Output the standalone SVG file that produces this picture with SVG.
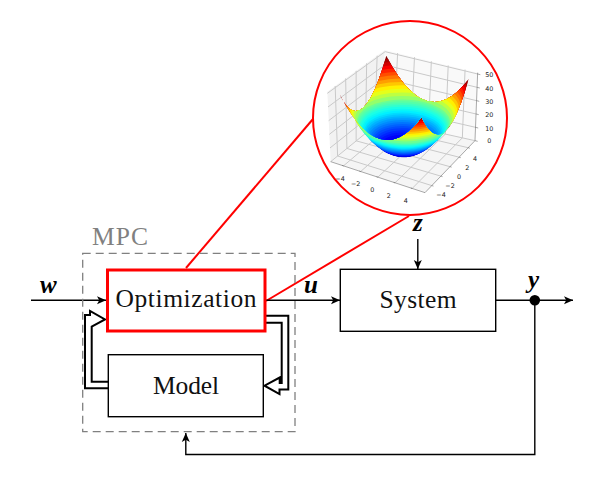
<svg xmlns="http://www.w3.org/2000/svg" width="595" height="477" viewBox="0 0 595 477">
<style>
.box{fill:#fff;stroke:#000;stroke-width:1.4}
.serif{font-family:"Liberation Serif","Times New Roman",serif;font-size:25.5px;fill:#111}
.math{font-family:"Liberation Serif","Times New Roman",serif;font-size:25px;font-weight:bold;font-style:italic;fill:#000}
.wire{fill:none;stroke:#000;stroke-width:1.4}
.dbl{fill:#fff;stroke:#000;stroke-width:2}
.red{fill:none;stroke:#f00;stroke-width:2}
.grid{fill:none;stroke:#c9c9c9;stroke-width:3}
.axis{fill:none;stroke:#555;stroke-width:1.5}
.tick{font-family:"DejaVu Sans",sans-serif;font-size:6.4px;fill:#222;text-anchor:middle}
</style>
<defs>
<marker id="arr" markerUnits="userSpaceOnUse" markerWidth="10" markerHeight="10" refX="9" refY="4" orient="auto" viewBox="0 0 10 8"><path d="M0,0 L9,4 L0,8 L2.2,4 Z" fill="#000"/></marker>
<clipPath id="topclip"><path d="M339.3,93.7 Q362.1,142 386.3,55.7 Q426.8,134.7 468.6,79 Q444.5,165.4 421.6,117 Q379.8,172.7 339.3,93.7 Z"/></clipPath>
<clipPath id="botclip"><path d="M339.3,93.7 Q379.8,172.7 421.6,117 Q444.5,165.4 468.6,79 L490,200 L320,200 Z"/></clipPath>
<clipPath id="silhouette">
<circle transform="matrix(17.67 30.67 64.67 -7.33 403.3 153.7)" cx="-.082" cy=".023" r=".2"/>
<circle transform="matrix(17.67 30.67 64.67 -7.33 403.3 153.7)" cx="-.165" cy=".046" r=".283"/>
<circle transform="matrix(17.67 30.67 64.67 -7.33 403.3 153.7)" cx="-.247" cy=".069" r=".346"/>
<circle transform="matrix(17.67 30.67 64.67 -7.33 403.3 153.7)" cx="-.329" cy=".092" r=".4"/>
<circle transform="matrix(17.67 30.67 64.67 -7.33 403.3 153.7)" cx="-.412" cy=".115" r=".447"/>
<circle transform="matrix(17.67 30.67 64.67 -7.33 403.3 153.7)" cx="-.494" cy=".137" r=".49"/>
<circle transform="matrix(17.67 30.67 64.67 -7.33 403.3 153.7)" cx="-.577" cy=".16" r=".529"/>
<circle transform="matrix(17.67 30.67 64.67 -7.33 403.3 153.7)" cx="-.659" cy=".183" r=".566"/>
<circle transform="matrix(17.67 30.67 64.67 -7.33 403.3 153.7)" cx="-.741" cy=".206" r=".6"/>
<circle transform="matrix(17.67 30.67 64.67 -7.33 403.3 153.7)" cx="-.824" cy=".229" r=".632"/>
<circle transform="matrix(17.67 30.67 64.67 -7.33 403.3 153.7)" cx="-.906" cy=".252" r=".663"/>
<circle transform="matrix(17.67 30.67 64.67 -7.33 403.3 153.7)" cx="-.988" cy=".275" r=".693"/>
<circle transform="matrix(17.67 30.67 64.67 -7.33 403.3 153.7)" cx="-1.071" cy=".298" r=".721"/>
</clipPath>
</defs>
<rect width="595" height="477" fill="#fff"/>

<g id="connectors">
<path class="red" d="M186,268 L313,119"/>
<path class="red" d="M266,301 L409,216"/>
<path class="wire" marker-end="url(#arr)" d="M31,300.3 H106"/>
<path class="wire" marker-end="url(#arr)" d="M266,300.3 H340"/>
<path class="wire" marker-end="url(#arr)" d="M417.8,239 V269"/>
<path class="wire" marker-end="url(#arr)" d="M495.7,300.3 H573"/>
<path class="wire" marker-end="url(#arr)" d="M534.8,300.3 V454.5 H185.8 V433"/>
<circle cx="534.8" cy="300.3" r="5.3" fill="#000"/>
</g>

<g id="mpc">
<rect x="82.7" y="253.3" width="212.3" height="178.4" fill="none" stroke="#808080" stroke-width="1.3" stroke-dasharray="8 5"/>
<text class="serif" x="92" y="245" textLength="56" style="fill:#808080">MPC</text>
</g>
<g id="feedback-arrows">
<path class="dbl" d="M108,388.3 H85 V315 H90 V311 L105,319.5 L91.7,326.7 V381.7 H108"/>
<path class="dbl" d="M266,315.7 H288.3 V389.5 H279.5 V394 L264.5,385.7 L279.7,377.5 V383 H281.7 V322.7 H266"/>
</g>
<g id="optimization">
<rect x="107.5" y="270" width="157.5" height="61" fill="#fff" stroke="#f00" stroke-width="3"/>
<text class="serif" x="115.5" y="307" textLength="141">Optimization</text>
</g>
<g id="model">
<rect class="box" x="108.3" y="354.7" width="155" height="62"/>
<text class="serif" x="153" y="394" textLength="66">Model</text>
</g>
<g id="system">
<rect class="box" x="340.3" y="269.3" width="155.4" height="62"/>
<text class="serif" x="379.5" y="307.5" textLength="77">System</text>
</g>
<g id="labels">
<text class="math" x="40" y="293" textLength="19">w</text>
<text class="math" x="304" y="293" textLength="15">u</text>
<text class="math" x="413" y="231" textLength="12">z</text>
<text class="math" x="528" y="288" textLength="14">y</text>
</g>

<g id="plot">
<circle cx="410" cy="118" r="97" fill="#fff"/>
<g transform="translate(310 10) scale(.33333)">
<polygon points="52,245 225,120 215,330 62,455" fill="#f2f2f2"/>
<polygon points="225,120 503,188 495,392 215,330" fill="#f9f9f9"/>
<polygon points="62,455 345,548 495,392 215,330" fill="#f5f5f5"/>
<path class="grid" d="M100.5,467.6 L253,338.4 L262.8,129.2 M152,484.6 L304,349.7 L313.4,141.6 M203.5,501.5 L355,361 L364,154 M255,518.4 L406,372.3 L414.6,166.4 M306.5,535.4 L457,383.6 L465.2,178.8"/>
<path class="grid" d="M365.4,526.8 L82.8,438 L75.5,228 M392.7,498.4 L110.7,415.3 L107,205.3 M420,470 L138.5,392.5 L138.5,182.5 M447.3,441.6 L166.3,369.8 L170,159.8 M474.6,413.2 L194.1,347 L201.5,137"/>
<path class="grid" d="M62,455 L216,330 L495,392 M60,414 L218,288 L496.6,352 M58,373 L220,247 L498.2,312 M56,332 L222,206 L499.8,272 M54,291 L224,165 L501.4,232 M52,250 L225.5,125 L503,192"/>
<path class="axis" d="M62,455 L345,548 L495,392 L503,188"/>
<path class="axis" d="M100.5,467.6 l-4,-1.3 M152,484.6 l-4,-1.3 M203.5,501.5 l-4,-1.3 M255,518.4 l-4,-1.3 M306.5,535.4 l-4,-1.3 M365.4,526.8 l5,1.5 M392.7,498.4 l5,1.5 M420,470 l5,1.5 M447.3,441.6 l5,1.5 M474.6,413.2 l5,1.5 M495,392 l8,2 M496.6,352 l8,2 M498.2,312 l8,2 M499.8,272 l8,2 M501.4,232 l8,2 M503,192 l8,2"/>
</g>
<g class="ticks">
<text class="tick" x="340" y="181">−4</text><text class="tick" x="355.7" y="186.3">−2</text><text class="tick" x="372.3" y="191.9">0</text><text class="tick" x="388.7" y="197.5">2</text><text class="tick" x="405.7" y="203.2">4</text>
<text class="tick" x="441" y="197.2">−4</text><text class="tick" x="450" y="187.9">−2</text><text class="tick" x="459" y="178.5">0</text><text class="tick" x="467.3" y="169.5">2</text><text class="tick" x="475" y="160.5">4</text>
<text class="tick" x="489.3" y="77.2">50</text><text class="tick" x="489.3" y="90.5">40</text><text class="tick" x="489.3" y="103.9">30</text><text class="tick" x="489.3" y="117.2">20</text><text class="tick" x="489.3" y="130.5">10</text><text class="tick" x="489.3" y="142.9">0</text>
</g>
<g clip-path="url(#botclip)">
<g clip-path="url(#silhouette)">
<g transform="matrix(17.67 30.67 64.67 -7.33 403.3 153.7)">
<circle cx="-.082" cy=".023" r=".2" fill="#0000a8"/>
<circle cx="-.124" cy=".034" r=".245" fill="#0000bc"/>
<circle cx="-.165" cy=".046" r=".283" fill="#0000d1"/>
<circle cx="-.206" cy=".057" r=".316" fill="#0000e6"/>
<circle cx="-.247" cy=".069" r=".346" fill="#0000fa"/>
<circle cx="-.288" cy=".08" r=".374" fill="#0012fc"/>
<circle cx="-.329" cy=".092" r=".4" fill="#0024ff"/>
<circle cx="-.371" cy=".103" r=".424" fill="#0039ff"/>
<circle cx="-.412" cy=".115" r=".447" fill="#004dff"/>
<circle cx="-.453" cy=".126" r=".469" fill="#0061ff"/>
<circle cx="-.494" cy=".137" r=".49" fill="#0075ff"/>
<circle cx="-.535" cy=".149" r=".51" fill="#008aff"/>
<circle cx="-.577" cy=".16" r=".529" fill="#009eff"/>
<circle cx="-.618" cy=".172" r=".548" fill="#00b2ff"/>
<circle cx="-.659" cy=".183" r=".566" fill="#00c7ff"/>
<circle cx="-.7" cy=".195" r=".583" fill="#00dcff"/>
<circle cx="-.741" cy=".206" r=".6" fill="#00f0ff"/>
<circle cx="-.782" cy=".218" r=".616" fill="#0df8f2"/>
<circle cx="-.824" cy=".229" r=".632" fill="#1affe6"/>
<circle cx="-.865" cy=".241" r=".648" fill="#2effd2"/>
<circle cx="-.906" cy=".252" r=".663" fill="#42ffbd"/>
<circle cx="-.947" cy=".263" r=".678" fill="#56ffa8"/>
<circle cx="-.988" cy=".275" r=".693" fill="#6bff94"/>
<circle cx="-1.071" cy=".298" r=".721" fill="#94ff6b"/>
<circle cx="-1.153" cy=".321" r=".748" fill="#bdff42"/>
<circle cx="-1.235" cy=".344" r=".775" fill="#e6ff1a"/>
<circle cx="-1.318" cy=".367" r=".8" fill="#fff000"/>
<circle cx="-1.4" cy=".389" r=".825" fill="#ffc700"/>
<circle cx="-1.482" cy=".412" r=".849" fill="#ff9e00"/>
<circle cx="-1.565" cy=".435" r=".872" fill="#ff7500"/>
<circle cx="-1.647" cy=".458" r=".894" fill="#ff4d00"/>
<circle cx="-1.73" cy=".481" r=".917" fill="#ff2400"/>
<circle cx="-1.812" cy=".504" r=".938" fill="#fa0000"/>
<circle cx="-1.894" cy=".527" r=".959" fill="#d10000"/>
<circle cx="-1.977" cy=".55" r=".98" fill="#a80000"/>
</g>
</g>
</g>
<g clip-path="url(#topclip)">
<g transform="matrix(17.67 30.67 64.67 -7.33 403.3 153.7)">
<circle cx="-2.059" cy=".573" r="1.6" fill="#800000"/>
<circle cx="-1.977" cy=".55" r=".98" fill="#a80000"/>
<circle cx="-1.894" cy=".527" r=".959" fill="#d10000"/>
<circle cx="-1.812" cy=".504" r=".938" fill="#fa0000"/>
<circle cx="-1.73" cy=".481" r=".917" fill="#ff2400"/>
<circle cx="-1.647" cy=".458" r=".894" fill="#ff4d00"/>
<circle cx="-1.565" cy=".435" r=".872" fill="#ff7500"/>
<circle cx="-1.482" cy=".412" r=".849" fill="#ff9e00"/>
<circle cx="-1.4" cy=".389" r=".825" fill="#ffc700"/>
<circle cx="-1.318" cy=".367" r=".8" fill="#fff000"/>
<circle cx="-1.235" cy=".344" r=".775" fill="#e6ff1a"/>
<circle cx="-1.153" cy=".321" r=".748" fill="#bdff42"/>
<circle cx="-1.071" cy=".298" r=".721" fill="#94ff6b"/>
<circle cx="-.988" cy=".275" r=".693" fill="#6bff94"/>
<circle cx="-.947" cy=".263" r=".678" fill="#56ffa8"/>
<circle cx="-.906" cy=".252" r=".663" fill="#42ffbd"/>
<circle cx="-.865" cy=".241" r=".648" fill="#2effd2"/>
<circle cx="-.824" cy=".229" r=".632" fill="#1affe6"/>
<circle cx="-.782" cy=".218" r=".616" fill="#0df8f2"/>
<circle cx="-.741" cy=".206" r=".6" fill="#00f0ff"/>
<circle cx="-.7" cy=".195" r=".583" fill="#00dcff"/>
<circle cx="-.659" cy=".183" r=".566" fill="#00c7ff"/>
<circle cx="-.618" cy=".172" r=".548" fill="#00b2ff"/>
<circle cx="-.577" cy=".16" r=".529" fill="#009eff"/>
<circle cx="-.535" cy=".149" r=".51" fill="#008aff"/>
<circle cx="-.494" cy=".137" r=".49" fill="#0075ff"/>
<circle cx="-.453" cy=".126" r=".469" fill="#0061ff"/>
<circle cx="-.412" cy=".115" r=".447" fill="#004dff"/>
<circle cx="-.371" cy=".103" r=".424" fill="#0039ff"/>
<circle cx="-.329" cy=".092" r=".4" fill="#0024ff"/>
<circle cx="-.288" cy=".08" r=".374" fill="#0012fc"/>
<circle cx="-.247" cy=".069" r=".346" fill="#0000fa"/>
<circle cx="-.206" cy=".057" r=".316" fill="#0000e6"/>
<circle cx="-.165" cy=".046" r=".283" fill="#0000d1"/>
<circle cx="-.124" cy=".034" r=".245" fill="#0000bc"/>
<circle cx="-.082" cy=".023" r=".2" fill="#0000a8"/>
</g>
</g>
<circle class="red" cx="410" cy="118" r="97"/>
</g>
</svg>
